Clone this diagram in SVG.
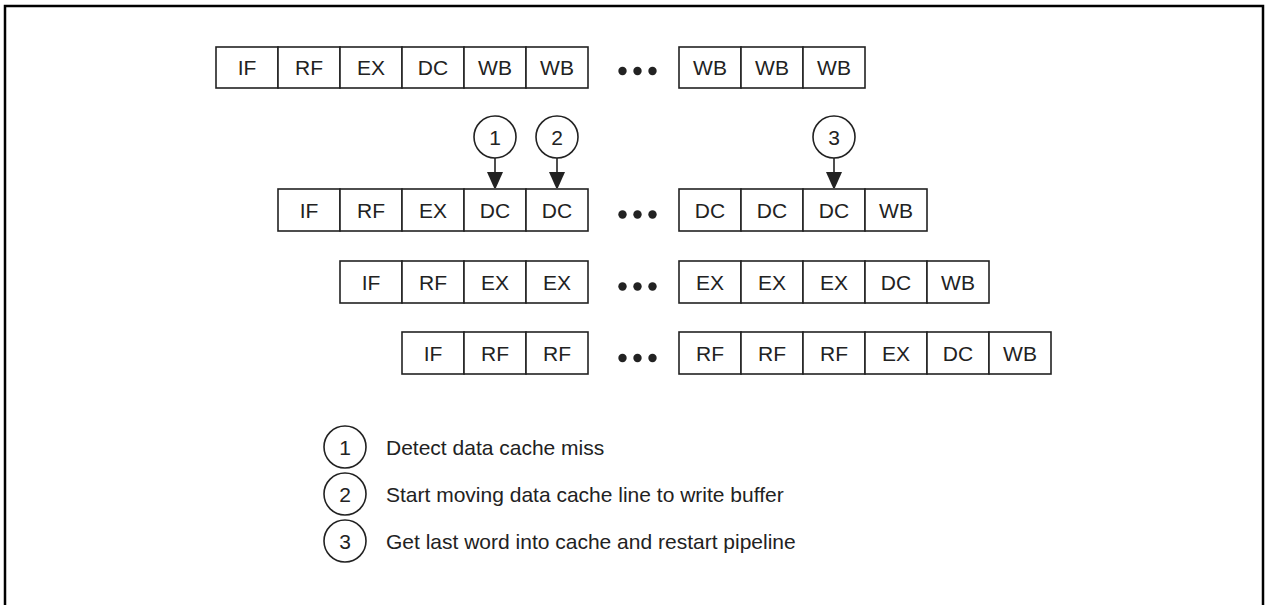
<svg xmlns="http://www.w3.org/2000/svg" width="1265" height="605" viewBox="0 0 1265 605">
<defs>
<style>
.cell{fill:#fff;stroke:#222;stroke-width:1.6}
.t{font-family:"Liberation Sans",Arial,sans-serif;font-size:21px;fill:#222;text-anchor:middle}
.lt{font-family:"Liberation Sans",Arial,sans-serif;font-size:21px;fill:#222}
.circ{fill:#fff;stroke:#222;stroke-width:1.6}
.dot{fill:#222}
.conn{stroke:#222;stroke-width:1.6;fill:none}
</style>
<marker id="ah" markerWidth="16" markerHeight="19" refX="16" refY="8" orient="auto" markerUnits="userSpaceOnUse">
<path d="M0,0 L18,8 L0,16 Z" fill="#222"/>
</marker>
</defs>
<rect x="0" y="0" width="1265" height="605" fill="#fff"/>
<rect x="5" y="6" width="1258" height="620" fill="none" stroke="#000" stroke-width="2.5"/>

<g id="row1">
<rect class="cell" x="216" y="47" width="62" height="41"/><text class="t" x="247" y="75">IF</text>
<rect class="cell" x="278" y="47" width="62" height="41"/><text class="t" x="309" y="75">RF</text>
<rect class="cell" x="340" y="47" width="62" height="41"/><text class="t" x="371" y="75">EX</text>
<rect class="cell" x="402" y="47" width="62" height="41"/><text class="t" x="433" y="75">DC</text>
<rect class="cell" x="464" y="47" width="62" height="41"/><text class="t" x="495" y="75">WB</text>
<rect class="cell" x="526" y="47" width="62" height="41"/><text class="t" x="557" y="75">WB</text>
<circle class="dot" cx="622.5" cy="71" r="4.2"/><circle class="dot" cx="637.5" cy="71" r="4.2"/><circle class="dot" cx="652.5" cy="71" r="4.2"/>
<rect class="cell" x="679" y="47" width="62" height="41"/><text class="t" x="710" y="75">WB</text>
<rect class="cell" x="741" y="47" width="62" height="41"/><text class="t" x="772" y="75">WB</text>
<rect class="cell" x="803" y="47" width="62" height="41"/><text class="t" x="834" y="75">WB</text>
</g>

<g id="row2">
<rect class="cell" x="278" y="189" width="62" height="42"/><text class="t" x="309" y="218">IF</text>
<rect class="cell" x="340" y="189" width="62" height="42"/><text class="t" x="371" y="218">RF</text>
<rect class="cell" x="402" y="189" width="62" height="42"/><text class="t" x="433" y="218">EX</text>
<rect class="cell" x="464" y="189" width="62" height="42"/><text class="t" x="495" y="218">DC</text>
<rect class="cell" x="526" y="189" width="62" height="42"/><text class="t" x="557" y="218">DC</text>
<circle class="dot" cx="622.5" cy="214.5" r="4.2"/><circle class="dot" cx="637.5" cy="214.5" r="4.2"/><circle class="dot" cx="652.5" cy="214.5" r="4.2"/>
<rect class="cell" x="679" y="189" width="62" height="42"/><text class="t" x="710" y="218">DC</text>
<rect class="cell" x="741" y="189" width="62" height="42"/><text class="t" x="772" y="218">DC</text>
<rect class="cell" x="803" y="189" width="62" height="42"/><text class="t" x="834" y="218">DC</text>
<rect class="cell" x="865" y="189" width="62" height="42"/><text class="t" x="896" y="218">WB</text>
</g>

<g id="row3">
<rect class="cell" x="340" y="261" width="62" height="42"/><text class="t" x="371" y="290">IF</text>
<rect class="cell" x="402" y="261" width="62" height="42"/><text class="t" x="433" y="290">RF</text>
<rect class="cell" x="464" y="261" width="62" height="42"/><text class="t" x="495" y="290">EX</text>
<rect class="cell" x="526" y="261" width="62" height="42"/><text class="t" x="557" y="290">EX</text>
<circle class="dot" cx="622.5" cy="286.5" r="4.2"/><circle class="dot" cx="637.5" cy="286.5" r="4.2"/><circle class="dot" cx="652.5" cy="286.5" r="4.2"/>
<rect class="cell" x="679" y="261" width="62" height="42"/><text class="t" x="710" y="290">EX</text>
<rect class="cell" x="741" y="261" width="62" height="42"/><text class="t" x="772" y="290">EX</text>
<rect class="cell" x="803" y="261" width="62" height="42"/><text class="t" x="834" y="290">EX</text>
<rect class="cell" x="865" y="261" width="62" height="42"/><text class="t" x="896" y="290">DC</text>
<rect class="cell" x="927" y="261" width="62" height="42"/><text class="t" x="958" y="290">WB</text>
</g>

<g id="row4">
<rect class="cell" x="402" y="332" width="62" height="42"/><text class="t" x="433" y="361">IF</text>
<rect class="cell" x="464" y="332" width="62" height="42"/><text class="t" x="495" y="361">RF</text>
<rect class="cell" x="526" y="332" width="62" height="42"/><text class="t" x="557" y="361">RF</text>
<circle class="dot" cx="622.5" cy="358" r="4.2"/><circle class="dot" cx="637.5" cy="358" r="4.2"/><circle class="dot" cx="652.5" cy="358" r="4.2"/>
<rect class="cell" x="679" y="332" width="62" height="42"/><text class="t" x="710" y="361">RF</text>
<rect class="cell" x="741" y="332" width="62" height="42"/><text class="t" x="772" y="361">RF</text>
<rect class="cell" x="803" y="332" width="62" height="42"/><text class="t" x="834" y="361">RF</text>
<rect class="cell" x="865" y="332" width="62" height="42"/><text class="t" x="896" y="361">EX</text>
<rect class="cell" x="927" y="332" width="62" height="42"/><text class="t" x="958" y="361">DC</text>
<rect class="cell" x="989" y="332" width="62" height="42"/><text class="t" x="1020" y="361">WB</text>
</g>

<g id="marker1"><circle class="circ" cx="495" cy="137" r="21"/><text class="t" x="495" y="144.5">1</text></g>
<g id="marker2"><circle class="circ" cx="557" cy="137" r="21"/><text class="t" x="557" y="144.5">2</text></g>
<g id="marker3"><circle class="circ" cx="834" cy="137" r="21"/><text class="t" x="834" y="144.5">3</text></g>

<g id="connectors">
<line class="conn" x1="495" y1="158" x2="495" y2="188" marker-end="url(#ah)"/>
<line class="conn" x1="557" y1="158" x2="557" y2="188" marker-end="url(#ah)"/>
<line class="conn" x1="834" y1="158" x2="834" y2="188" marker-end="url(#ah)"/>
</g>

<g id="legend1"><circle class="circ" cx="345" cy="447" r="21"/><text class="t" x="345" y="454.5">1</text><text class="lt" x="386" y="454.5">Detect data cache miss</text></g>
<g id="legend2"><circle class="circ" cx="345" cy="494" r="21"/><text class="t" x="345" y="501.5">2</text><text class="lt" x="386" y="501.5">Start moving data cache line to write buffer</text></g>
<g id="legend3"><circle class="circ" cx="345" cy="541" r="21"/><text class="t" x="345" y="548.5">3</text><text class="lt" x="386" y="548.5">Get last word into cache and restart pipeline</text></g>
</svg>
